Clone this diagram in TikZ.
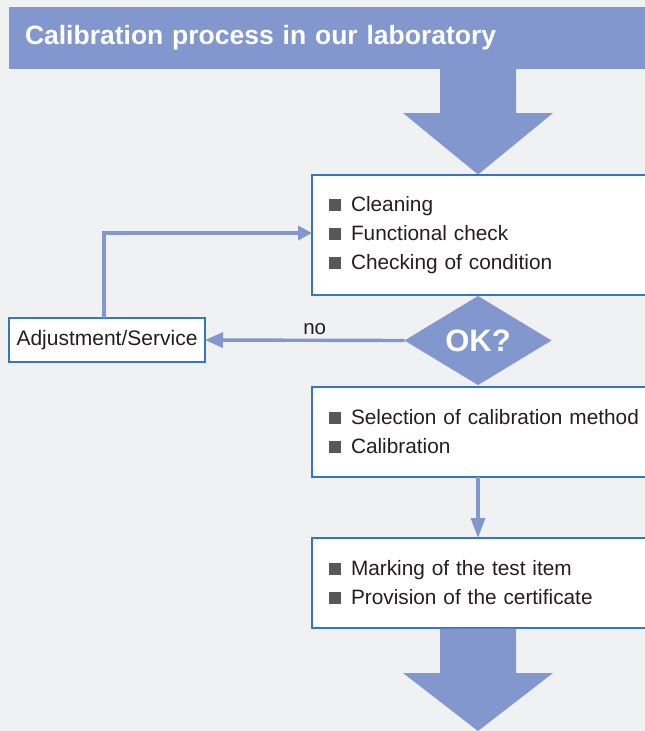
\documentclass[tikz,border=0pt]{standalone}
\usepackage{fontspec}
\setmainfont{Liberation Sans}
\usetikzlibrary{shapes.geometric,arrows.meta,positioning}
\definecolor{calblue}{HTML}{8297CE}
\definecolor{frameblue}{HTML}{3576BE}
\definecolor{bggray}{HTML}{F0F1F3}
\definecolor{bulletgray}{HTML}{58585A}
\definecolor{textblack}{HTML}{231F20}
\newcommand{\bitem}{\textcolor{bulletgray}{\rule[0.5pt]{12pt}{12pt}}\hspace{10pt}}
\begin{document}
\begin{tikzpicture}[x=1pt,y=-1pt,inner sep=0pt,outer sep=0pt,
stepbox/.style={draw=frameblue,fill=white,line width=1.3pt,rectangle,anchor=north west,
  minimum width=348pt,inner xsep=17pt,text width=314pt,align=left,text=textblack,
  font=\fontsize{20.8}{29}\selectfont},
flow/.style={draw=calblue,line width=3.4pt},
bigarrow/.style={fill=calblue}]
\useasboundingbox (0,0) rectangle (645,731);
\fill[bggray] (0,0) rectangle (645,731);
% title bar
\node[fill=calblue,anchor=north west,minimum width=636pt,minimum height=62pt,
  inner xsep=16pt,text width=604pt,align=left,text=white,
  font=\fontsize{26.5}{30}\selectfont\bfseries] (title) at (9,7) {Calibration process in our laboratory};
% process boxes
\node[stepbox,minimum height=120pt] (check) at (312,175)
  {\bitem Cleaning\\ \bitem Functional check\\ \bitem Checking of condition};
\node[draw=none,fill=calblue,diamond,minimum width=147pt,minimum height=89pt,aspect=1.65,
  text=white,font=\fontsize{31}{34}\selectfont\bfseries] (ok) at (478,340.5) {OK?};
\node[stepbox,minimum height=90pt] (calib) at (312,387)
  {\bitem Selection of calibration method\\ \bitem Calibration};
\node[stepbox,minimum height=90pt] (mark) at (312,538)
  {\bitem Marking of the test item\\ \bitem Provision of the certificate};
\node[draw=frameblue,fill=white,line width=1.3pt,minimum width=196pt,minimum height=44pt,
  text=textblack,font=\fontsize{21}{24}\selectfont] (adjust) at (107,340) {Adjustment/Service};
% big arrows in and out
\fill[bigarrow] (440,69) -- (440,113) -- (403,113) -- (478,174.5) -- (553,113) -- (516,113) -- (516,69) -- cycle;
\fill[bigarrow] (440,628.5) -- (440,673) -- (403,673) -- (478,731) -- (553,673) -- (516,673) -- (516,628.5) -- cycle;
% connectors
\draw[flow,-{Triangle[length=18pt,width=15pt]}] (ok.west) -- (adjust.east)
  node[pos=.45,above=6pt,text=textblack,font=\fontsize{20.5}{24}\selectfont] (no) {no};
\draw[flow,-{Triangle[length=14pt,width=14pt]}] ([xshift=-3pt]adjust.north) |- ([yshift=2pt]check.west);
\draw[flow,-{Triangle[length=20pt,width=14pt]}] (calib.south -| ok) -- (mark.north -| ok);
\end{tikzpicture}
\end{document}
